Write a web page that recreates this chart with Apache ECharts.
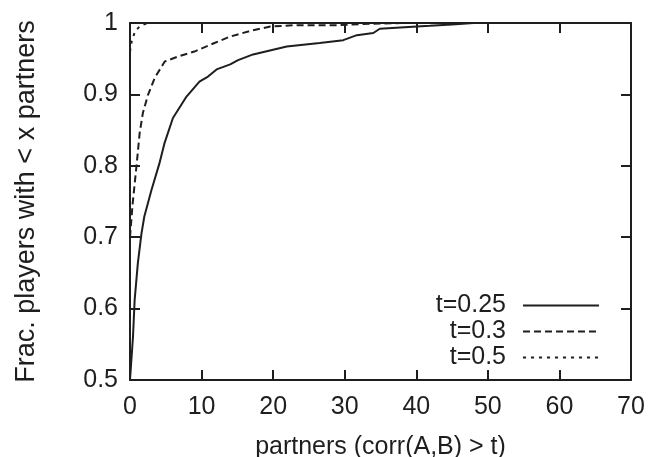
<!DOCTYPE html>
<html><head><meta charset="utf-8">
<script src="https://cdn.jsdelivr.net/npm/echarts@6/dist/echarts.min.js"></script>
<style>html,body{margin:0;padding:0;background:#fff}#c{width:650px;height:457px}</style>
</head><body><div id="c"></div>
<script>
const seriesNames = ['t=0.25', 't=0.3', 't=0.5'];
const xTicks = [0, 10, 20, 30, 40, 50, 60, 70];
const yTicks = [0.5, 0.6, 0.7, 0.8, 0.9, 1];
const t25x = [0, 0.42, 0.65, 1.1, 1.6, 2.0, 3.0, 4.1, 4.8, 6.0, 7.9, 9.7, 10.9, 12.1, 14.0, 15.1, 17.2, 21.9, 26.5, 29.8, 31.7, 34.0, 34.9, 40.1, 41.9, 45, 48];
const t25y = [0.5, 0.561, 0.612, 0.664, 0.705, 0.729, 0.766, 0.803, 0.831, 0.867, 0.897, 0.918, 0.925, 0.935, 0.942, 0.948, 0.956, 0.967, 0.972, 0.976, 0.983, 0.986, 0.992, 0.995, 0.996, 0.998, 1.0];
const t30x = [0, 0.35, 0.9, 1.35, 1.8, 2.5, 3.45, 4.85, 6.7, 9.0, 11.8, 14.0, 16.8, 19.6, 23.3, 29.3, 33.5, 38];
const t30y = [0.70, 0.745, 0.799, 0.846, 0.874, 0.899, 0.923, 0.946, 0.953, 0.960, 0.972, 0.981, 0.989, 0.995, 0.997, 0.997, 0.999, 1.0];
const t50x = [0, 0.25, 0.7, 1.4, 2.5, 4];
const t50y = [0.96, 0.975, 0.988, 0.996, 1.0, 1.0];

const zip = (a, b) => a.map((v, i) => [v, b[i]]);
const font = 'Liberation Sans, Arial, Helvetica, sans-serif';
const ink = '#1e1e1e';
const fs = 25;
const dashes = ['solid', [7, 4], [3, 5]];
const data = [zip(t25x, t25y), zip(t30x, t30y), zip(t50x, t50y)];

const axisCommon = {
  axisLine: { show: true, onZero: false, lineStyle: { color: ink, width: 2 } },
  axisTick: { show: true, inside: true, length: 10, lineStyle: { color: ink, width: 2 } },
  splitLine: { show: false }
};

const chart = echarts.init(document.getElementById('c'));
chart.setOption({
  animation: false,
  backgroundColor: '#fff',
  grid: { left: 130, right: 19, top: 23, bottom: 77, containLabel: false, outerBoundsMode: 'none' },
  legend: seriesNames.map((n, i) => ({
    data: [n], right: 50, top: 293 + i * 26, align: 'right',
    itemWidth: 76, itemHeight: 14, padding: 0,
    itemStyle: { opacity: 0 },
    textStyle: { fontFamily: font, fontSize: fs, color: ink, padding: [0, 12, 0, 0] }
  })),
  xAxis: [
    Object.assign({ type: 'value', min: xTicks[0], max: xTicks[xTicks.length - 1], interval: 10, position: 'bottom',
      name: 'partners (corr(A,B) > t)', nameLocation: 'middle', nameGap: 55,
      nameTextStyle: { fontFamily: font, fontSize: fs, color: ink },
      axisLabel: { fontFamily: font, fontSize: fs, color: ink, margin: 15 } }, axisCommon),
    Object.assign({ type: 'value', min: xTicks[0], max: xTicks[xTicks.length - 1], interval: 10, position: 'top',
      axisLabel: { show: false } }, axisCommon)
  ],
  yAxis: [
    Object.assign({ type: 'value', min: yTicks[0], max: yTicks[yTicks.length - 1], interval: 0.1, position: 'left',
      name: 'Frac. players with < x partners', nameLocation: 'middle', nameGap: 90, nameRotate: 90,
      nameTextStyle: { fontFamily: font, fontSize: 27, color: ink },
      axisLabel: { fontFamily: font, fontSize: fs, color: ink, margin: 12,
        formatter: v => String(Math.round(v * 10) / 10) } }, axisCommon),
    Object.assign({ type: 'value', min: yTicks[0], max: yTicks[yTicks.length - 1], interval: 0.1, position: 'right',
      axisLabel: { show: false } }, axisCommon)
  ],
  series: seriesNames.map((n, i) => ({
    name: n, type: 'line', data: data[i], showSymbol: false, symbol: 'none',
    xAxisIndex: 0, yAxisIndex: 0, z: 1,
    lineStyle: { color: ink, width: 2, type: dashes[i] },
    itemStyle: { color: ink }
  }))
});
</script></body></html>
